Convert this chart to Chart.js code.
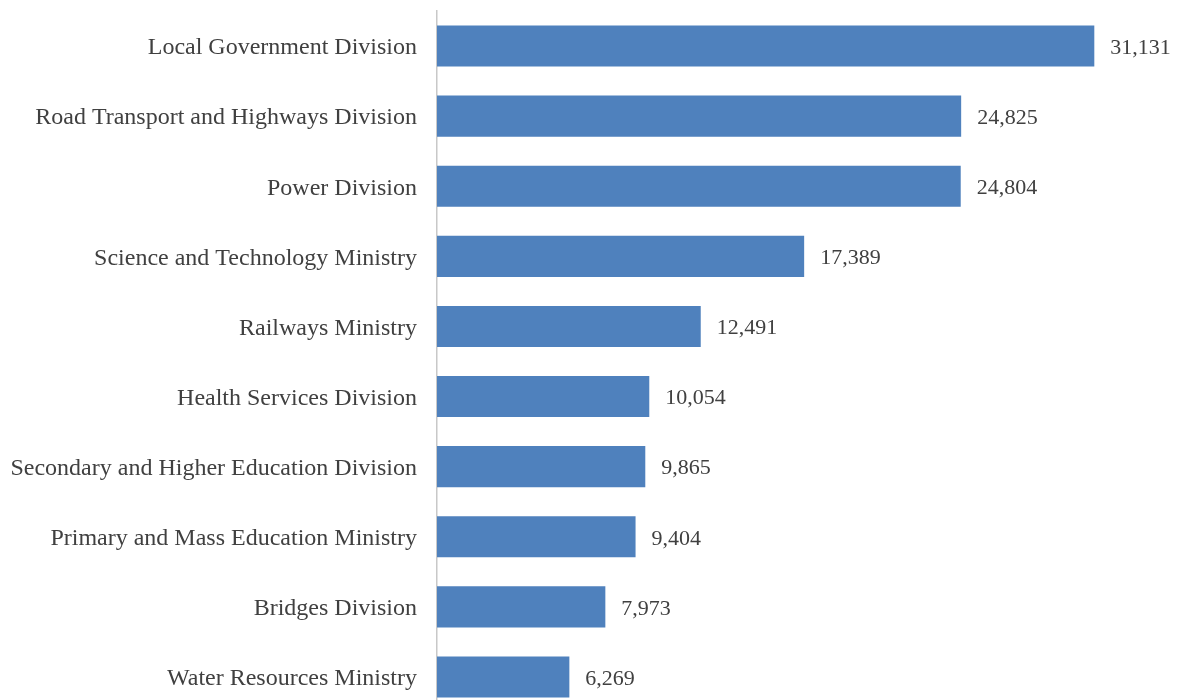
<!DOCTYPE html>
<html>
<head>
<meta charset="utf-8">
<script src="https://cdn.jsdelivr.net/npm/chart.js@4/dist/chart.umd.min.js"></script>
<style>
html,body{margin:0;padding:0;background:#fff;overflow:hidden;width:1180px;height:700px;}
#wrap{width:1180px;height:720px;}
</style>
</head>
<body>
<div id="wrap"><canvas id="c" width="1180" height="720"></canvas></div>
<script>
const categories = [
  "Local Government Division",
  "Road Transport and Highways Division",
  "Power Division",
  "Science and Technology Ministry",
  "Railways Ministry",
  "Health Services Division",
  "Secondary and Higher Education Division",
  "Primary and Mass Education Ministry",
  "Bridges Division",
  "Water Resources Ministry"
];
const values = [31131, 24825, 24804, 17389, 12491, 10054, 9865, 9404, 7973, 6269];
const xMax = 35000;

const FONT = "'Liberation Serif', 'Times New Roman', serif";
const TEXT = '#404040';

const valueLabels = {
  id: 'valueLabels',
  afterDatasetsDraw(chart) {
    const ctx = chart.ctx;
    const meta = chart.getDatasetMeta(0);
    ctx.save();
    ctx.font = "22px " + FONT;
    ctx.fillStyle = TEXT;
    ctx.textAlign = 'left';
    ctx.textBaseline = 'middle';
    meta.data.forEach((bar, i) => {
      ctx.fillText(values[i].toLocaleString('en-US'), bar.x + 16, bar.y + 2);
    });
    ctx.restore();
  }
};

new Chart(document.getElementById('c'), {
  type: 'bar',
  data: {
    labels: categories,
    datasets: [{
      data: values,
      backgroundColor: '#4F81BD',
      borderWidth: 0,
      categoryPercentage: 1,
      barPercentage: 0.586
    }]
  },
  options: {
    indexAxis: 'y',
    responsive: false,
    animation: false,
    devicePixelRatio: 1,
    layout: { padding: { top: 11, bottom: 8, left: 0, right: 4 } },
    plugins: { legend: { display: false }, tooltip: { enabled: false } },
    scales: {
      x: { display: false, min: 0, max: xMax },
      y: {
        grid: { display: false, drawTicks: false },
        border: { display: true, color: '#C8C8C8', width: 1.5 },
        ticks: { color: TEXT, font: { family: FONT, size: 24 }, padding: 20, labelOffset: 2 },
        afterFit(scale) { scale.width = 437; scale.paddingTop = 0; scale.paddingBottom = 0; }
      }
    }
  },
  plugins: [valueLabels]
});
</script>
</body>
</html>
